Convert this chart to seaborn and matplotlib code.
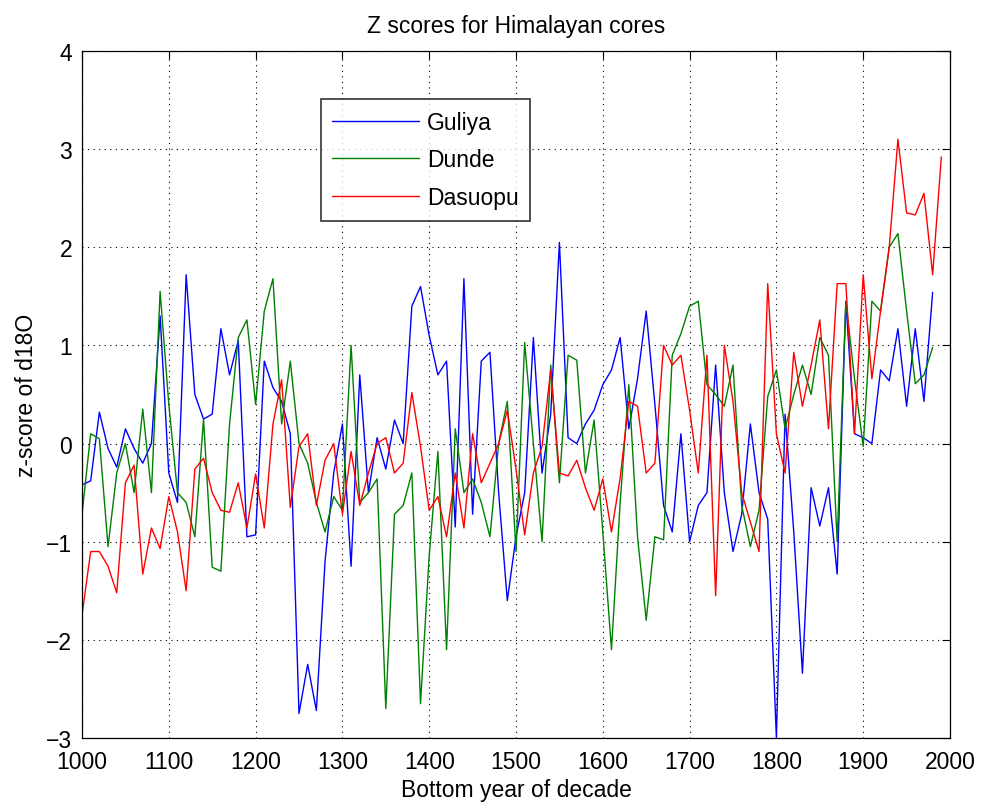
import numpy as np
import pandas as pd
import matplotlib
matplotlib.use("Agg")
import matplotlib.pyplot as plt
import seaborn as sns

years_gd = list(range(1000, 1990, 10))   # Guliya & Dunde: 1000..1980
years_ds = list(range(1000, 2000, 10))   # Dasuopu: 1000..1990

guliya = [-0.42, -0.38, 0.32, -0.05, -0.24, 0.15, -0.05, -0.2, 0.0, 1.3,
          -0.3, -0.6, 1.72, 0.5, 0.25, 0.3, 1.17, 0.7, 1.05, -0.95,
          -0.93, 0.84, 0.57, 0.43, 0.1, -2.75, -2.25, -2.72, -1.2, -0.3,
          0.2, -1.25, 0.7, -0.5, 0.06, -0.26, 0.24, 0.0, 1.4, 1.6,
          1.1, 0.7, 0.84, -0.85, 1.68, -0.72, 0.84, 0.93, -0.5, -1.6,
          -0.95, -0.5, 1.08, -0.3, 0.3, 2.05, 0.06, 0.0, 0.2, 0.34,
          0.6, 0.75, 1.08, 0.15, 0.66, 1.35, 0.4, -0.63, -0.9, 0.1,
          -1.0, -0.63, -0.5, 0.8, -0.5, -1.1, -0.72, 0.2, -0.5, -0.77,
          -3.0, 0.3, -0.9, -2.34, -0.45, -0.84, -0.45, -1.33, 1.45, 0.1,
          0.06, 0.0, 0.75, 0.64, 1.17, 0.38, 1.17, 0.43, 1.54]

dunde = [-0.72, 0.1, 0.05, -1.05, -0.3, 0.0, -0.5, 0.35, -0.5, 1.55,
         0.4, -0.5, -0.6, -0.95, 0.25, -1.26, -1.3, 0.2, 1.08, 1.26,
         0.4, 1.35, 1.68, 0.2, 0.84, 0.0, -0.2, -0.6, -0.9, -0.54,
         -0.68, 1.0, -0.6, -0.5, -0.36, -2.7, -0.72, -0.63, -0.3, -2.65,
         -1.14, -0.08, -2.1, 0.15, -0.5, -0.36, -0.6, -0.95, 0.0, 0.43,
         -1.1, 1.03, 0.0, -1.0, 0.8, -0.4, 0.9, 0.85, -0.3, 0.24,
         -0.9, -2.1, -0.6, 0.6, -0.95, -1.8, -0.95, -0.98, 0.9, 1.12,
         1.4, 1.45, 0.6, 0.5, 0.38, 0.8, -0.63, -1.05, -0.68, 0.48,
         0.75, 0.15, 0.5, 0.8, 0.5, 1.08, 0.9, -1.0, 1.45, 0.66,
         -0.03, 1.45, 1.35, 2.0, 2.14, 1.35, 0.61, 0.7, 0.98]

dasuopu = [-1.75, -1.1, -1.1, -1.25, -1.52, -0.4, -0.22, -1.33, -0.86, -1.07,
           -0.54, -0.9, -1.5, -0.26, -0.15, -0.5, -0.68, -0.7, -0.4, -0.86,
           -0.31, -0.86, 0.2, 0.65, -0.65, -0.03, 0.1, -0.63, -0.17, 0.0,
           -0.72, -0.08, -0.63, -0.3, 0.0, 0.06, -0.3, -0.2, 0.52, -0.03,
           -0.68, -0.54, -0.95, -0.3, -0.86, 0.1, -0.4, -0.2, 0.0, 0.34,
           -0.26, -0.93, -0.3, -0.03, 0.75, -0.3, -0.33, -0.17, -0.45, -0.68,
           -0.36, -0.9, -0.35, 0.43, 0.38, -0.3, -0.2, 1.0, 0.8, 0.9,
           0.34, -0.3, 0.9, -1.55, 1.0, 0.43, -0.5, -0.8, -1.1, 1.63,
           0.1, -0.3, 0.93, 0.38, 0.8, 1.26, 0.15, 1.63, 1.63, 0.1,
           1.72, 0.66, 1.35, 2.0, 3.1, 2.35, 2.33, 2.55, 1.72, 2.92]

series_names = ["Guliya", "Dunde", "Dasuopu"]
x_ticks = list(range(1000, 2001, 100))
y_ticks = list(range(-3, 5))

df = pd.concat([
    pd.DataFrame({"year": years_gd, "z": guliya, "core": "Guliya"}),
    pd.DataFrame({"year": years_gd, "z": dunde, "core": "Dunde"}),
    pd.DataFrame({"year": years_ds, "z": dasuopu, "core": "Dasuopu"}),
], ignore_index=True)

sns.set_theme(style="white")
plt.rcParams["font.family"] = ["Liberation Sans", "DejaVu Sans"]
plt.rcParams["text.color"] = "black"
plt.rcParams["axes.labelcolor"] = "black"

FS = 16.5

fig = plt.figure(figsize=(9.82, 8.12), dpi=100)
ax = fig.add_axes([82/982, 1-739/812, 868/982, 687/812])

palette = {"Guliya": (0, 0, 1), "Dunde": (0, 0.5, 0), "Dasuopu": (1, 0, 0)}
sns.lineplot(data=df, x="year", y="z", hue="core", hue_order=series_names,
             palette=palette, linewidth=1.0, ax=ax, estimator=None, sort=False)

ax.set_xlim(1000, 2000)
ax.set_ylim(-3, 4)
ax.set_xticks(x_ticks)
ax.set_yticks(y_ticks)
ax.tick_params(direction="in", length=6, width=0.8, top=True, right=True,
               labelsize=FS, colors="black")
ax.tick_params(axis="x", pad=9)
ax.tick_params(axis="y", pad=7)
ax.grid(True, linestyle=(0, (1, 4)), color="black", linewidth=0.8)
for s in ax.spines.values():
    s.set_visible(True)
    s.set_color("black")
    s.set_linewidth(0.9)

ax.set_title("Z scores for Himalayan cores", fontsize=FS, pad=14, color="black")
ax.set_xlabel("Bottom year of decade", fontsize=FS, labelpad=3, color="black")
ax.set_ylabel("z-score of d18O", fontsize=FS, labelpad=6, color="black")

leg = ax.legend(loc="upper left", bbox_to_anchor=(0.275, 0.930),
                borderaxespad=0, fontsize=FS, frameon=True, fancybox=False,
                handlelength=3.8, handletextpad=0.35, labelspacing=0.65,
                borderpad=0.5, title=None)
leg.get_frame().set_edgecolor("black")
leg.get_frame().set_linewidth(1.2)
for t in leg.get_texts():
    t.set_color("black")

fig.savefig("out.png", dpi=100, facecolor="white")
